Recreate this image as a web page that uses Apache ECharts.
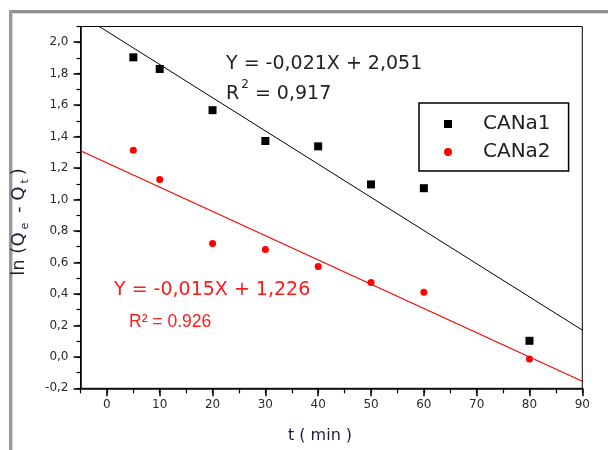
<!DOCTYPE html>
<html><head><meta charset="utf-8">
<script src="https://cdn.jsdelivr.net/npm/echarts@6/dist/echarts.min.js"></script>
<style>html,body{margin:0;padding:0;background:#fff}#c{width:608px;height:450px}</style>
</head><body><div id="c"></div>
<script>
const timeMin = [5, 10, 20, 30, 40, 50, 60, 80];
const cana1 = [1.904, 1.83, 1.568, 1.372, 1.338, 1.096, 1.072, 0.102];
const cana2 = [1.313, 1.128, 0.721, 0.683, 0.574, 0.472, 0.411, -0.013];
const fitX = [-5, 90];
const fit1 = [2.175, 0.17];
const fit2 = [1.31, -0.155];
const xTicks = [0, 10, 20, 30, 40, 50, 60, 70, 80, 90];
const yTicks = [-0.2, 0, 0.2, 0.4, 0.6, 0.8, 1.0, 1.2, 1.4, 1.6, 1.8, 2.0];
const seriesNames = ['CANa1', 'CANa2'];
const eq1 = 'Y = -0,021X + 2,051';
const r2a = '0,917';
const eq2 = 'Y = -0,015X + 1,226';
const r2b = 'R² = 0.926';

const zip = (xs, ys) => xs.map((x, i) => [x, ys[i]]);
const labelFont = { fontFamily: 'DejaVu Sans', fontSize: 12, color: '#2a2a2a' };
const fmtY = v => v.toFixed(1).replace('.', ',');

const chart = echarts.init(document.getElementById('c'));
chart.setOption({
  animation: false,
  backgroundColor: '#fff',
  grid: { left: 80.5, right: 25.7, top: 26.5, bottom: 61.7, show: true, borderColor: '#000', borderWidth: 1, backgroundColor: 'transparent' },
  xAxis: [
    { type: 'value', min: -5, max: 90, interval: 5, position: 'bottom',
      axisLine: { show: true, onZero: false, lineStyle: { color: '#000', width: 1.5 } },
      axisTick: { show: true, customValues: xTicks, length: 8, lineStyle: { color: '#000', width: 1.5 } },
      axisLabel: Object.assign({ customValues: xTicks, margin: 11, formatter: v => String(v) }, labelFont),
      splitLine: { show: false } },
    { type: 'value', min: -5, max: 90, interval: 5, position: 'bottom',
      axisLine: { show: false, onZero: false },
      axisTick: { show: true, length: 5, lineStyle: { color: '#000', width: 1.2 } },
      axisLabel: { show: false }, splitLine: { show: false } }
  ],
  yAxis: [
    { type: 'value', min: -0.2, max: 2.1, interval: 0.2, position: 'left',
      axisLine: { show: true, onZero: false, lineStyle: { color: '#000', width: 1.5 } },
      axisTick: { show: true, customValues: yTicks, length: 7, lineStyle: { color: '#000', width: 1.5 } },
      axisLabel: Object.assign({ customValues: yTicks, margin: 12, formatter: fmtY }, labelFont),
      splitLine: { show: false } },
    { type: 'value', min: -0.2, max: 2.1, interval: 0.1, position: 'left',
      axisLine: { show: false, onZero: false },
      axisTick: { show: true, length: 4, lineStyle: { color: '#000', width: 1.2 } },
      axisLabel: { show: false }, splitLine: { show: false } }
  ],
  legend: {
    orient: 'vertical', left: 419, top: 103, itemWidth: 8, itemHeight: 8, itemGap: 8,
    padding: [11, 18, 9, 25], borderColor: '#000', borderWidth: 1.5,
    textStyle: { fontFamily: 'DejaVu Sans', fontSize: 20, color: '#222', padding: [0, 0, 0, 26] },
    data: seriesNames
  },
  series: [
    { name: 'fit1', type: 'line', data: zip(fitX, fit1), symbol: 'none', lineStyle: { color: '#000', width: 1 }, clip: true, silent: true, z: 1 },
    { name: 'fit2', type: 'line', data: zip(fitX, fit2), symbol: 'none', lineStyle: { color: '#ff0000', width: 1.2 }, clip: true, silent: true, z: 1 },
    { name: seriesNames[0], type: 'scatter', data: zip(timeMin, cana1), symbol: 'rect', symbolSize: 8, itemStyle: { color: '#000', opacity: 1 }, z: 3 },
    { name: seriesNames[1], type: 'scatter', data: zip(timeMin, cana2), symbol: 'circle', symbolSize: 7, itemStyle: { color: '#ff0000', opacity: 1 }, z: 3 }
  ],
  graphic: [
    { type: 'rect', shape: { x: 9, y: 10, width: 599, height: 3 }, style: { fill: '#8f8f8f' } },
    { type: 'rect', shape: { x: 9, y: 13, width: 599, height: 1 }, style: { fill: '#d8d8d8' } },
    { type: 'rect', shape: { x: 9, y: 10, width: 3, height: 440 }, style: { fill: '#999' } },
    { type: 'rect', shape: { x: 12, y: 13, width: 1, height: 437 }, style: { fill: '#d8d8d8' } },
    { type: 'text', x: 226, y: 64.5, style: { text: eq1, fontFamily: 'DejaVu Sans', fontSize: 19, fill: '#222', verticalAlign: 'middle', align: 'left' } },
    { type: 'text', x: 226, y: 79.3, style: { text: '{a|R}{s|2}{a| = ' + r2a + '}', verticalAlign: 'top', align: 'left',
        rich: { a: { fontFamily: 'DejaVu Sans', fontSize: 19, lineHeight: 30, fill: '#222', color: '#222' },
                s: { fontFamily: 'DejaVu Sans', fontSize: 12, verticalAlign: 'top', fill: '#222', color: '#222', padding: [0, 0, 0, 2] } } } },
    { type: 'text', x: 114, y: 289.6, style: { text: eq2, fontFamily: 'DejaVu Sans', fontSize: 19, fill: '#ff1a1a', verticalAlign: 'middle', align: 'left' } },
    { type: 'text', x: 129, y: 322, style: { text: r2b, fontFamily: 'Liberation Sans', fontSize: 17.5, fill: '#ff1a1a', verticalAlign: 'middle', align: 'left' } },
    { type: 'text', x: 320, y: 436, style: { text: 't ( min )', fontFamily: 'DejaVu Sans', fontSize: 16, fill: '#1b1b3a', verticalAlign: 'middle', align: 'center' } },
    { type: 'text', x: 19, y: 222, rotation: Math.PI / 2, style: { text: '{a|ln (Q}{s|e}{a| - Q}{s|t}{a|)}', align: 'center', verticalAlign: 'middle',
        rich: { a: { fontFamily: 'DejaVu Sans', fontSize: 18, lineHeight: 24, fill: '#1b1b3a', color: '#1b1b3a', padding: [0, 1, 0, 1] },
                s: { fontFamily: 'DejaVu Sans', fontSize: 11, verticalAlign: 'bottom', fill: '#1b1b3a', color: '#1b1b3a', padding: [0, 3, 0, 2] } } } }
  ]
});
</script></body></html>
